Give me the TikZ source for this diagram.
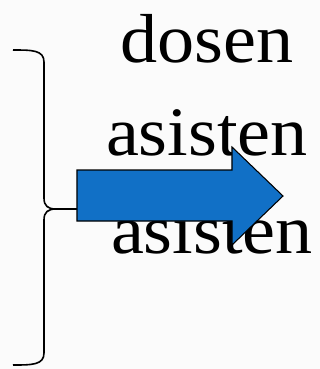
\documentclass[tikz,border=0pt]{standalone}
\usepackage{fontspec}
\setmainfont{Liberation Serif}[FakeStretch=1.07]
\definecolor{arrowblue}{RGB}{17,112,198}
\definecolor{paper}{RGB}{251,251,251}
\tikzset{
  word/.style={anchor=base, inner sep=0pt, font=\fontsize{52}{52}\selectfont},
  bracepath/.style={draw=black, line width=1.2pt},
  bigarrow/.style={fill=arrowblue, draw=black, line width=0.8pt, line join=miter}
}
\begin{document}
\begin{tikzpicture}[x=0.75pt, y=-0.75pt]
  % canvas
  \fill[paper] (0,0) rectangle (320,369);
  \useasboundingbox (0,0) rectangle (320,369);

  % labels
  \node[word] (dosen) at (207,62) {dosen};
  \node[word] (asisten1) at (207,155) {asisten};
  \node[word] (asisten2) at (212,253) {asisten};

  % curly brace with its stem reaching the arrow
  \coordinate (tip) at (56,209);
  \coordinate (stem) at (77,209);
  \draw[bracepath] (13,50) .. controls (32,50) and (44,50) .. (44,62)
        -- (44,198) .. controls (44,206) and (48,209) .. (tip)
        .. controls (48,209) and (44,212) .. (44,220)
        -- (44,353) .. controls (44,365) and (32,365) .. (13,365);
  \draw[bracepath] (tip) -- (stem);

  % block arrow
  \draw[bigarrow] (stem |- 0,170) -- (232,170) -- (232,147) -- (283,196)
        -- (232,245) -- (232,221) -- (77,221) -- cycle;
\end{tikzpicture}
\end{document}
